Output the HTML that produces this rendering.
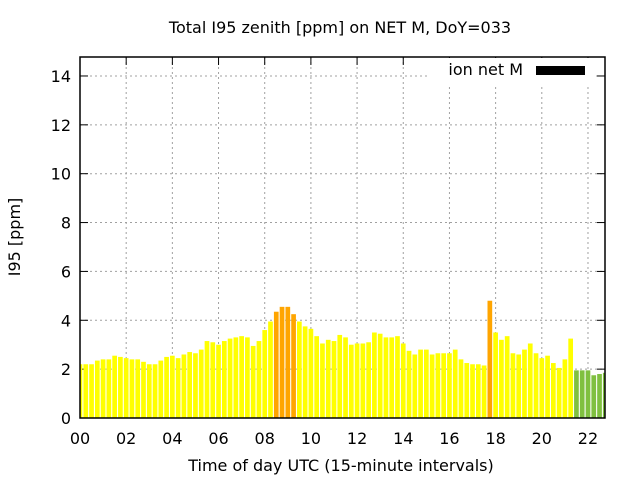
<!DOCTYPE html>
<html><head><meta charset="utf-8"><style>
body{margin:0;background:#fff}
svg text{font-family:"DejaVu Sans","Liberation Sans",sans-serif;font-size:16px;fill:#000}
</style></head><body>
<svg id="chart" width="640" height="480" xmlns="http://www.w3.org/2000/svg">
<g id="grid"></g>
<g id="ticks"></g>
<g id="bars" clip-path="url(#clip)"></g>
<defs><clipPath id="clip"><rect x="80" y="57" width="525" height="361"/></clipPath></defs>
<g id="axes"></g>
<text x="340" y="33" text-anchor="middle">Total I95 zenith [ppm] on NET M, DoY=033</text>
<text x="341" y="471" text-anchor="middle">Time of day UTC (15-minute intervals)</text>
<text transform="translate(20,237) rotate(-90)" text-anchor="middle">I95 [ppm]</text>
<g>
<rect x="428" y="58" width="168" height="26" fill="#fff"/>
<text x="523" y="75" text-anchor="end">ion net M</text>
<rect x="536" y="66" width="49" height="9" fill="#000"/>
</g>
</svg>
<script>
const values=[2.2,2.2,2.2,2.35,2.4,2.4,2.55,2.5,2.45,2.4,2.4,2.3,2.2,2.2,2.35,2.5,2.55,2.45,2.6,2.7,2.65,2.8,3.15,3.1,3.0,3.15,3.25,3.3,3.35,3.3,2.95,
3.15,3.6,3.95,4.35,4.55,4.55,4.25,3.95,3.75,3.65,3.35,3.05,3.2,3.15,3.4,3.3,3.0,3.05,3.05,3.1,3.5,3.45,3.3,3.3,3.35,3.05,2.75,2.6,2.8,2.8,
2.6,2.65,2.65,2.65,2.8,2.4,2.25,2.2,2.2,2.15,4.8,3.5,3.2,3.35,2.65,2.6,2.8,3.05,2.65,2.45,2.55,2.25,2.05,2.4,3.25,1.95,1.95,1.95,1.75,1.8,1.85];
const yTicks=[0,2,4,6,8,10,12,14];
const xTicks=[0,2,4,6,8,10,12,14,16,18,20,22];
const xTickLabels=["00","02","04","06","08","10","12","14","16","18","20","22"];
const NS="http://www.w3.org/2000/svg";
const L=80,R=605,T=57,B=418;
const xs=h=>L+h*23.09;
const ys=v=>B-v*24.43;
function mk(tag,attrs,parent){const e=document.createElementNS(NS,tag);for(const k in attrs)e.setAttribute(k,attrs[k]);parent.appendChild(e);return e;}
const grid=document.getElementById('grid'),ticks=document.getElementById('ticks'),bars=document.getElementById('bars'),axes=document.getElementById('axes');
yTicks.forEach(v=>{
 if(v>0){const g=mk('line',{x1:L,x2:R,y1:ys(v),y2:ys(v),stroke:'#a0a0a0','stroke-dasharray':'2,3'},grid);
 
 }
 mk('line',{x1:L,x2:L+8,y1:ys(v),y2:ys(v),stroke:'#000'},ticks);
 mk('line',{x1:R,x2:R-8,y1:ys(v),y2:ys(v),stroke:'#000'},ticks);
 const t=mk('text',{x:L-9,y:ys(v)+6,'text-anchor':'end'},axes);t.textContent=v;
 
 
});
xTicks.forEach((h,i)=>{
 if(h>0){const g=mk('line',{x1:xs(h),x2:xs(h),y1:T,y2:B,stroke:'#a0a0a0','stroke-dasharray':'2,3'},grid);
 
 }
 mk('line',{x1:xs(h),x2:xs(h),y1:B,y2:B-8,stroke:'#000'},ticks);
 mk('line',{x1:xs(h),x2:xs(h),y1:T,y2:T+8,stroke:'#000'},ticks);
 const t=mk('text',{x:xs(h),y:B+26,'text-anchor':'middle'},axes);t.textContent=xTickLabels[i];
 
 
});
values.forEach((v,i)=>{
 const xc=xs(i*0.25),w=4.7;
 const c=v<2?'#80c040':(v>=4?'#ffa500':'#ffff00');
 const r=mk('rect',{x:xc-w/2,y:ys(v),width:w,height:B-ys(v),fill:c},bars);
 
 
});
mk('rect',{x:L,y:T,width:R-L,height:B-T,fill:'none',stroke:'#000','stroke-width':1.5},axes);
</script>
</body></html>
